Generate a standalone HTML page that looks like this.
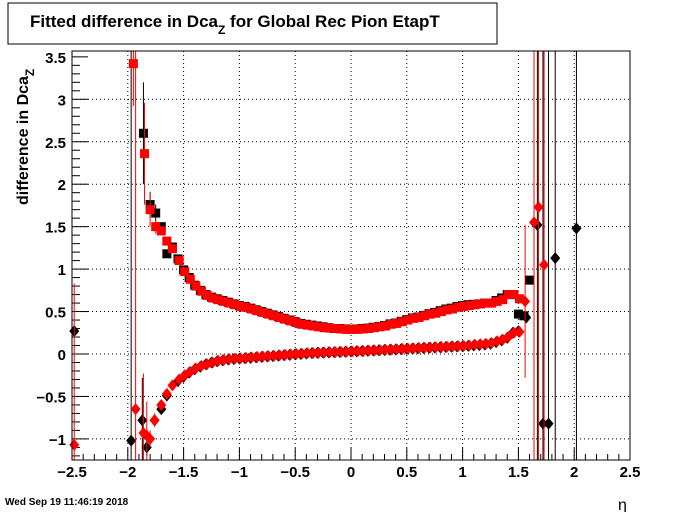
<!DOCTYPE html>
<html><head><meta charset="utf-8"><style>
body{margin:0;background:#fff;}
svg{display:block;font-family:"Liberation Sans",Arial,sans-serif;}
</style></head><body>
<svg id="chart" width="700" height="512" viewBox="0 0 700 512" xmlns="http://www.w3.org/2000/svg">
<rect x="0" y="0" width="700" height="512" fill="#fff"/>
<rect x="8" y="3" width="489" height="41" fill="#fff" stroke="#000" stroke-width="1"/>
<text x="30" y="27" font-size="17" font-weight="bold">Fitted difference in Dca<tspan font-size="12" dy="7">Z</tspan><tspan dy="-7"> for Global Rec Pion EtapT</tspan></text>
<g id="grid"></g>
<g id="ticks"></g>
<g id="marks"></g>
<rect x="72" y="51" width="558" height="409" fill="none" stroke="#000" stroke-width="1"/>
<text transform="translate(28,205) rotate(-90)" font-size="16" font-weight="bold">difference in Dca<tspan font-size="12" dy="6">Z</tspan></text>
<text x="618" y="510" font-size="16">η</text>
<text x="5" y="505" font-size="10" font-weight="bold">Wed Sep 19 11:46:19 2018</text>
</svg>
<script>
const xTicks=[-2.5,-2,-1.5,-1,-0.5,0,0.5,1,1.5,2,2.5];
const xTickLabels=["−2.5","−2","−1.5","−1","−0.5","0","0.5","1","1.5","2","2.5"];
const yTicks=[-1,-0.5,0,0.5,1,1.5,2,2.5,3,3.5];
const yTickLabels=["−1","−0.5","0","0.5","1","1.5","2","2.5","3","3.5"];
const etaMid=[-1.55,-1.5,-1.45,-1.4,-1.35,-1.3,-1.25,-1.2,-1.15,-1.1,-1.05,-1.0,-0.95,-0.9,-0.85,-0.8,-0.75,-0.7,-0.65,-0.6,-0.55,-0.5,-0.45,-0.4,-0.35,-0.3,-0.25,-0.2,-0.15,-0.1,-0.05,0,0.05,0.1,0.15,0.2,0.25,0.3,0.35,0.4,0.45,0.5,0.55,0.6,0.65,0.7,0.75,0.8,0.85,0.9,0.95,1.0,1.05,1.1,1.15,1.2,1.25,1.3,1.35,1.4,1.45,1.5];
const redUpper=[1.10,0.97,0.88,0.80,0.74,0.69,0.66,0.64,0.62,0.60,0.58,0.56,0.55,0.53,0.51,0.49,0.47,0.45,0.43,0.41,0.39,0.37,0.35,0.34,0.33,0.32,0.31,0.305,0.30,0.295,0.29,0.29,0.29,0.295,0.30,0.31,0.32,0.33,0.35,0.36,0.38,0.40,0.42,0.43,0.45,0.47,0.48,0.50,0.52,0.53,0.55,0.56,0.57,0.58,0.59,0.60,0.60,0.62,0.64,0.70,0.70,0.65];
const blackUpper=[1.12,0.99,0.90,0.81,0.75,0.70,0.67,0.65,0.63,0.61,0.59,0.57,0.56,0.54,0.52,0.50,0.48,0.46,0.44,0.42,0.40,0.38,0.36,0.35,0.34,0.33,0.32,0.31,0.30,0.30,0.295,0.29,0.295,0.30,0.305,0.315,0.325,0.335,0.355,0.365,0.385,0.405,0.425,0.435,0.455,0.475,0.49,0.51,0.53,0.54,0.56,0.57,0.58,0.585,0.59,0.60,0.60,0.63,0.66,0.70,0.70,0.47];
const redLower=[-0.30,-0.25,-0.21,-0.17,-0.14,-0.12,-0.10,-0.08,-0.07,-0.06,-0.055,-0.05,-0.045,-0.04,-0.035,-0.03,-0.025,-0.02,-0.015,-0.01,-0.005,0.0,0.005,0.01,0.012,0.015,0.018,0.02,0.022,0.025,0.028,0.03,0.033,0.036,0.04,0.043,0.046,0.05,0.053,0.056,0.06,0.063,0.066,0.07,0.073,0.076,0.08,0.083,0.086,0.09,0.093,0.096,0.10,0.11,0.115,0.12,0.13,0.15,0.17,0.20,0.25,0.26];
const blackLower=[-0.32,-0.27,-0.22,-0.18,-0.15,-0.12,-0.10,-0.085,-0.075,-0.065,-0.06,-0.055,-0.05,-0.045,-0.04,-0.035,-0.03,-0.025,-0.02,-0.015,-0.01,-0.005,0.0,0.005,0.01,0.013,0.016,0.019,0.021,0.024,0.027,0.03,0.032,0.035,0.038,0.041,0.044,0.047,0.05,0.053,0.057,0.06,0.063,0.066,0.07,0.073,0.076,0.079,0.082,0.085,0.088,0.091,0.095,0.10,0.105,0.11,0.12,0.14,0.16,0.19,0.25,0.27];
const redSqEta=[-1.95,-1.85,-1.8,-1.75,-1.7,-1.65,-1.6];
const redSqVal=[3.42,2.36,1.70,1.50,1.45,1.33,1.24];
const redSqErr=[0.5,0.6,0.2,0.08,0.05,0.04,0.03];
const blackSqEta=[-1.86,-1.8,-1.75,-1.7,-1.65,-1.6,1.55,1.6];
const blackSqVal=[2.60,1.76,1.66,1.50,1.18,1.26,0.45,0.87];
const blackSqErr=[0.6,0.15,0.1,0.05,0.04,0.03,0.02,0.02];
const redDiaEta=[-2.48,-1.93,-1.86,-1.83,-1.8,-1.76,-1.7,-1.65,-1.6,1.56,1.64,1.68,1.73];
const redDiaVal=[-1.07,-0.65,-0.93,-0.96,-1.0,-0.78,-0.60,-0.47,-0.37,0.62,1.55,1.73,1.05];
const redDiaErr=[1.9,9,0.7,0.4,0.1,0.08,0.05,0.03,0.03,0.9,9,9,9];
const blackDiaEta=[-2.48,-1.97,-1.87,-1.83,-1.76,-1.7,-1.65,1.57,1.67,1.72,1.77,1.83,2.02];
const blackDiaVal=[0.27,-1.02,-0.78,-1.10,-0.78,-0.65,-0.49,0.43,1.52,-0.82,-0.82,1.13,1.48];
const blackDiaErr=[0,9,0.5,0.1,0.05,0.04,0.03,0.02,9,9,9,9,9];

const X0=72,X1=630,Y0=51,Y1=460;
function xs(v){return X0+(v+2.5)/5*(X1-X0);}
function ys(v){return 354-v*84.9;}
const NS="http://www.w3.org/2000/svg";
function mk(tag,attrs,parent){const e=document.createElementNS(NS,tag);for(const k in attrs)e.setAttribute(k,attrs[k]);parent.appendChild(e);return e;}
const grid=document.getElementById('grid'),ticks=document.getElementById('ticks'),marks=document.getElementById('marks');
xTicks.forEach((t,i)=>{
  const x=xs(t);
  if(i>0&&i<xTicks.length-1){const g=mk('line',{x1:x,x2:x,y1:Y0,y2:Y1,stroke:'#000','stroke-dasharray':'1,3','stroke-width':1},grid);
  
  }
  const tl=mk('line',{x1:x,x2:x,y1:Y1,y2:Y1-12,stroke:'#000'},ticks);
  
  
  if(i<xTicks.length-1)for(let k=1;k<5;k++){const xm=xs(t+k*0.1);mk('line',{x1:xm,x2:xm,y1:Y1,y2:Y1-6,stroke:'#000'},ticks);}
  const lb=mk('text',{x:x,y:477,'font-size':15,'font-weight':'bold','text-anchor':'middle'},ticks);
  lb.textContent=xTickLabels[i];
  
  
});
yTicks.forEach((t,i)=>{
  const y=ys(t);
  if(i<yTicks.length-1){const g=mk('line',{x1:X0,x2:X1,y1:y,y2:y,stroke:'#000','stroke-dasharray':'1,3','stroke-width':1},grid);
  
  }
  const tl=mk('line',{x1:X0,x2:X0+16,y1:y,y2:y,stroke:'#000'},ticks);
  
  
  for(let k=-4;k<5;k++){if(k===0)continue;const ym=ys(t+k*0.1);if(ym>Y0&&ym<Y1&&(k>0||i===0))mk('line',{x1:X0,x2:X0+8,y1:ym,y2:ym,stroke:'#000'},ticks);}
  const lb=mk('text',{x:66,y:y+6,'font-size':15,'font-weight':'bold','text-anchor':'end'},ticks);
  lb.textContent=yTickLabels[i];
  
  
});
function clipY(v){return Math.max(Y0,Math.min(Y1,v));}
function drawPoint(eta,val,err,color,shape,name){
  const x=xs(eta),y=ys(val);
  if(err>0){const e=mk('line',{x1:x,x2:x,y1:clipY(ys(val+err)),y2:clipY(ys(val-err)),stroke:color,'stroke-width':1},marks);
  
  }
  if(y<Y0-4||y>Y1+4)return;
  let m;
  if(shape==='sq')m=mk('rect',{x:x-4.5,y:y-4.5,width:9,height:9,fill:color},marks);
  else m=mk('polygon',{points:`${x},${y-6} ${x+5},${y} ${x},${y+6} ${x-5},${y}`,fill:color},marks);
  
  
}
etaMid.forEach((e,i)=>drawPoint(e,blackUpper[i],0,'#000','sq','black-square-point'));
blackSqEta.forEach((e,i)=>drawPoint(e,blackSqVal[i],blackSqErr[i],'#000','sq','black-square-point'));
etaMid.forEach((e,i)=>drawPoint(e,blackLower[i],0,'#000','dia','black-diamond-point'));
blackDiaEta.forEach((e,i)=>drawPoint(e,blackDiaVal[i],blackDiaErr[i],'#000','dia','black-diamond-point'));
etaMid.forEach((e,i)=>drawPoint(e+0.01,redUpper[i],0,'#f00','sq','red-square-point'));
redSqEta.forEach((e,i)=>drawPoint(e,redSqVal[i],redSqErr[i],'#f00','sq','red-square-point'));
etaMid.forEach((e,i)=>drawPoint(e+0.01,redLower[i],0,'#f00','dia','red-diamond-point'));
redDiaEta.forEach((e,i)=>drawPoint(e,redDiaVal[i],redDiaErr[i],'#f00','dia','red-diamond-point'));
</script>
</body></html>
